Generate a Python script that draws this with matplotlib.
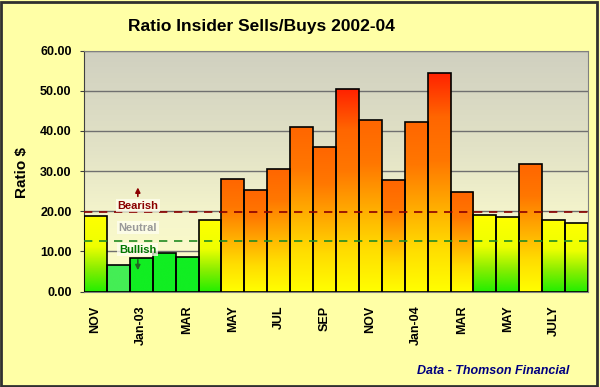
import numpy as np
import matplotlib
matplotlib.use("Agg")
import matplotlib.pyplot as plt
from matplotlib.colors import LinearSegmentedColormap, to_rgb
from matplotlib.patches import Rectangle

# ---------------- data ----------------
months = ["Nov-02", "Dec-02", "Jan-03", "Feb-03", "Mar-03", "Apr-03", "May-03", "Jun-03",
          "Jul-03", "Aug-03", "Sep-03", "Oct-03", "Nov-03", "Dec-03", "Jan-04", "Feb-04",
          "Mar-04", "Apr-04", "May-04", "Jun-04", "Jul-04", "Aug-04"]
ratios = [18.9, 6.7, 8.3, 9.5, 8.6, 17.8, 27.9, 25.3, 30.6, 40.9, 36.0, 50.3, 42.8, 27.7,
          42.1, 54.5, 24.8, 19.1, 18.6, 31.7, 17.9, 17.0]
tick_labels = ["NOV", "Jan-03", "MAR", "MAY", "JUL", "SEP", "NOV", "Jan-04", "MAR", "MAY", "JULY"]
bearish_level = 19.7
bullish_level = 12.5

plt.rcParams['font.family'] = ['Liberation Sans', 'DejaVu Sans']

fig = plt.figure(figsize=(6, 3.87), dpi=100)
fig.patch.set_facecolor('#ffffa6')
ax = fig.add_axes([84/600, 1-291.5/387, 504/600, 241/387])
ax.set_facecolor('#ffffc8')

x = np.arange(len(ratios))
ax.set_xlim(-0.5, len(ratios) - 0.5)
ax.set_ylim(0, 60)

# plot area background gradient (gray at top -> pale yellow at bottom)
bg_cmap = LinearSegmentedColormap.from_list('bg', [(0, '#ffffc4'), (0.3, '#f6f6cc'),
                                                    (0.6, '#e2e2c6'), (1, '#d0d0c0')])
grad = np.linspace(0, 1, 256).reshape(-1, 1)
ax.imshow(grad, extent=[0, 1, 0, 1], transform=ax.transAxes, origin='lower',
          aspect='auto', cmap=bg_cmap, zorder=0)

# grid
ax.yaxis.grid(True, color='#707070', lw=1.0, zorder=1)
ax.set_axisbelow(True)

red_cmap = LinearSegmentedColormap.from_list('r', ['#ffff00', '#ffdd00', '#ffaa00', '#ff7700', '#ff6600', '#ff2200'])
org_cmap = LinearSegmentedColormap.from_list('o', ['#ffff00', '#ffdd00', '#ffaa00', '#ff7700', '#ff6600'])
grn_cmap = LinearSegmentedColormap.from_list('g', [(0, '#22ee00'), (0.3, '#88ee00'), (0.6, '#eeff00'), (1, '#ffff00')])

def bar_cmap(v):
    if v >= 48:
        return red_cmap
    if v >= 20:
        return org_cmap
    if v >= 15:
        return grn_cmap
    if v < 7:
        return LinearSegmentedColormap.from_list('s', ['#44ee55', '#44ee55'])
    return LinearSegmentedColormap.from_list('s', ['#11ee22', '#11ee22'])

bars = ax.bar(x, ratios, width=1.0, color='none', edgecolor='black', lw=1.2, zorder=3)
for rect, v in zip(bars, ratios):
    x0, w, h = rect.get_x(), rect.get_width(), rect.get_height()
    im = ax.imshow(grad, extent=[x0, x0 + w, 0, h], origin='lower', aspect='auto',
                   cmap=bar_cmap(v), zorder=2)
    clip = Rectangle((x0, 0), w, h, transform=ax.transData)
    im.set_clip_path(clip)

ax.set_xlim(-0.5, len(ratios) - 0.5)
ax.set_ylim(0, 60)

# threshold lines
ax.axhline(bearish_level, color='#8b0000', ls=(0, (5, 4)), lw=1.2, zorder=4)
ax.axhline(bullish_level, color='#228b22', ls=(0, (5, 4)), lw=1.2, zorder=4)

box = dict(boxstyle='square,pad=0.15', fc='#fffff0', ec='none', alpha=0.75)
ax.text(1.85, 21.4, 'Bearish', color='#8b0000', fontsize=8, fontweight='bold',
        ha='center', va='center', zorder=5, bbox=box)
ax.text(1.85, 15.9, 'Neutral', color='#999999', fontsize=8, fontweight='bold',
        ha='center', va='center', zorder=5, bbox=box)
ax.text(1.85, 10.4, 'Bullish', color='#007700', fontsize=8, fontweight='bold',
        ha='center', va='center', zorder=5, bbox=box)
ax.annotate('', xy=(1.85, 26.6), xytext=(1.85, 23.0),
            arrowprops=dict(arrowstyle='-|>', color='#8b0000', lw=1.2, mutation_scale=7), zorder=5)
ax.annotate('', xy=(1.85, 4.6), xytext=(1.85, 8.6),
            arrowprops=dict(arrowstyle='-|>', color='#226622', lw=1.2, mutation_scale=7), zorder=5)

# axes styling
ax.set_yticks(np.arange(0, 61, 10))
ax.set_yticklabels([f"{v:.2f}" for v in np.arange(0, 61, 10)], fontsize=9, fontweight='bold')
ax.set_xticks(x[::2])
ax.set_xticklabels(tick_labels, rotation=90, fontsize=9, fontweight='bold')
ax.tick_params(axis='x', length=0, pad=10)
ax.tick_params(axis='y', length=3, pad=6, color='#404040')
for s in ax.spines.values():
    s.set_color('#808080')
ax.spines['left'].set_color('#404040')

fig.text(261/600, 1-26/387, 'Ratio Insider Sells/Buys 2002-04', ha='center', va='center',
         fontsize=12.5, fontweight='bold')
fig.text(21.7/600, 1-172/387, 'Ratio $', rotation=90, ha='center', va='center',
         fontsize=11, fontweight='bold')
fig.text(569/600, 1-371/387, 'Data - Thomson Financial', ha='right', va='center',
         fontsize=9, fontweight='bold', style='italic', color='#000080')

fig.add_artist(Rectangle((0.002, 0.003), 0.993, 0.993, transform=fig.transFigure,
                         fill=False, ec='#303030', lw=2))

fig.savefig('out.png', dpi=100, facecolor=fig.get_facecolor())
